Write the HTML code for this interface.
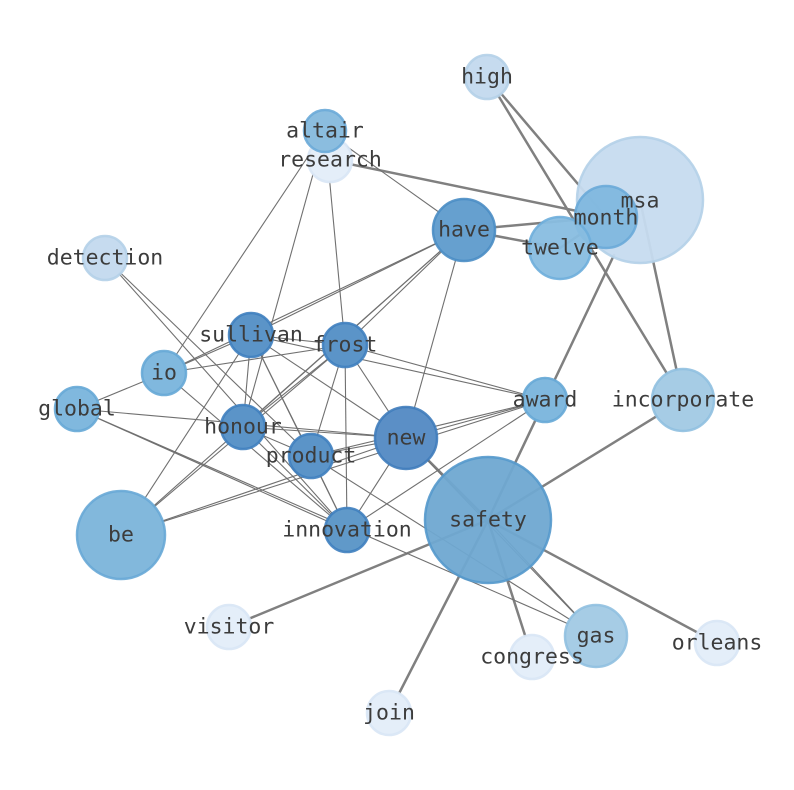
<!DOCTYPE html>
<html><head><style>body{margin:0;background:#fff}svg{display:block}</style></head><body>
<svg width="794" height="790" xmlns="http://www.w3.org/2000/svg">
<g stroke="#808080" stroke-width="2.5" stroke-linecap="round" fill="none">
<line x1="487" y1="77" x2="606" y2="217"/>
<line x1="487" y1="77" x2="683" y2="400"/>
<line x1="330" y1="160" x2="606" y2="217"/>
<line x1="464" y1="230" x2="606" y2="217"/>
<line x1="464" y1="230" x2="560" y2="248"/>
<line x1="560" y1="248" x2="606" y2="217"/>
<line x1="640" y1="200" x2="683" y2="400"/>
<line x1="488" y1="520" x2="614" y2="255"/>
<line x1="488" y1="520" x2="683" y2="400"/>
<line x1="488" y1="520" x2="229" y2="627"/>
<line x1="488" y1="520" x2="389" y2="713"/>
<line x1="488" y1="520" x2="532" y2="657"/>
<line x1="488" y1="520" x2="717" y2="643"/>
<line x1="488" y1="520" x2="406" y2="438"/>
</g>
<g stroke="#707070" stroke-width="1.1" fill="none">
<line x1="325" y1="131" x2="464" y2="230"/>
<line x1="325" y1="131" x2="164" y2="373"/>
<line x1="325" y1="131" x2="243" y2="427"/>
<line x1="325" y1="131" x2="345" y2="345"/>
<line x1="105" y1="258" x2="347" y2="530"/>
<line x1="105" y1="258" x2="311" y2="456"/>
<line x1="464" y1="230" x2="251" y2="335"/>
<line x1="464" y1="230" x2="164" y2="373"/>
<line x1="464" y1="230" x2="243" y2="427"/>
<line x1="464" y1="230" x2="121" y2="535"/>
<line x1="464" y1="230" x2="406" y2="438"/>
<line x1="464" y1="230" x2="345" y2="345"/>
<line x1="251" y1="335" x2="164" y2="373"/>
<line x1="251" y1="335" x2="345" y2="345"/>
<line x1="251" y1="335" x2="243" y2="427"/>
<line x1="251" y1="335" x2="311" y2="456"/>
<line x1="251" y1="335" x2="347" y2="530"/>
<line x1="251" y1="335" x2="121" y2="535"/>
<line x1="251" y1="335" x2="406" y2="438"/>
<line x1="251" y1="335" x2="545" y2="400"/>
<line x1="345" y1="345" x2="164" y2="373"/>
<line x1="345" y1="345" x2="243" y2="427"/>
<line x1="345" y1="345" x2="311" y2="456"/>
<line x1="345" y1="345" x2="347" y2="530"/>
<line x1="345" y1="345" x2="406" y2="438"/>
<line x1="345" y1="345" x2="545" y2="400"/>
<line x1="345" y1="345" x2="121" y2="535"/>
<line x1="77" y1="409" x2="164" y2="373"/>
<line x1="77" y1="409" x2="406" y2="438"/>
<line x1="77" y1="409" x2="347" y2="530"/>
<line x1="77" y1="409" x2="596" y2="636"/>
<line x1="164" y1="373" x2="347" y2="530"/>
<line x1="243" y1="427" x2="406" y2="438"/>
<line x1="243" y1="427" x2="311" y2="456"/>
<line x1="243" y1="427" x2="347" y2="530"/>
<line x1="406" y1="438" x2="311" y2="456"/>
<line x1="406" y1="438" x2="121" y2="535"/>
<line x1="406" y1="438" x2="545" y2="400"/>
<line x1="406" y1="438" x2="347" y2="530"/>
<line x1="545" y1="400" x2="121" y2="535"/>
<line x1="545" y1="400" x2="347" y2="530"/>
<line x1="545" y1="400" x2="311" y2="456"/>
<line x1="311" y1="456" x2="596" y2="636"/>
<line x1="311" y1="456" x2="347" y2="530"/>
<line x1="488" y1="520" x2="596" y2="636"/>
<line x1="406" y1="438" x2="596" y2="636"/>
</g>
<g stroke-width="2.5" stroke-opacity="0.9">
<circle cx="640" cy="200" r="63" fill="#c6dbef" stroke="#b4d0e8" fill-opacity="0.95"/>
<circle cx="487" cy="77" r="22" fill="#c6dbef" stroke="#b4d0e8"/>
<circle cx="330" cy="160" r="22" fill="#e4eef9" stroke="#d8e6f5"/>
<circle cx="325" cy="131" r="21" fill="#8bbddf" stroke="#6aaad8"/>
<circle cx="606" cy="217" r="31" fill="#7cb6de" fill-opacity="0.9" stroke="#6aaad8"/>
<circle cx="560" cy="248" r="31" fill="#88bde0" fill-opacity="0.95" stroke="#6eaedb"/>
<circle cx="464" cy="230" r="31" fill="#66a0cf" stroke="#4a8dc4"/>
<circle cx="105" cy="258" r="22" fill="#c6dbef" stroke="#b4d0e8"/>
<circle cx="251" cy="335" r="22" fill="#5b94c8" stroke="#3f80bf"/>
<circle cx="345" cy="345" r="22" fill="#5b94c8" stroke="#3f80bf"/>
<circle cx="164" cy="373" r="22" fill="#80b8de" stroke="#66a8d6"/>
<circle cx="77" cy="409" r="22" fill="#80b8de" stroke="#66a8d6"/>
<circle cx="545" cy="400" r="22" fill="#80b8de" stroke="#66a8d6"/>
<circle cx="683" cy="400" r="31" fill="#a6cce5" stroke="#90c0e0"/>
<circle cx="243" cy="427" r="22" fill="#5b94c8" stroke="#3f80bf"/>
<circle cx="406" cy="438" r="31" fill="#5b8fc6" stroke="#3f7cbb"/>
<circle cx="311" cy="456" r="22" fill="#5b94c8" stroke="#3f80bf"/>
<circle cx="488" cy="520" r="63" fill="#6fa8d1" fill-opacity="0.95" stroke="#5599cc"/>
<circle cx="121" cy="535" r="44" fill="#82b8dc" stroke="#68a9d6"/>
<circle cx="347" cy="530" r="22" fill="#6099c9" stroke="#3f80bf"/>
<circle cx="229" cy="627" r="22" fill="#e4eef9" stroke="#d8e6f5"/>
<circle cx="532" cy="657" r="22" fill="#e4eef9" stroke="#d8e6f5"/>
<circle cx="596" cy="636" r="31" fill="#a6cce5" stroke="#90c0e0"/>
<circle cx="717" cy="643" r="22" fill="#e4eef9" stroke="#d8e6f5"/>
<circle cx="389" cy="713" r="22" fill="#e4eef9" stroke="#d8e6f5"/>
</g>
<g font-family="'DejaVu Sans Mono','Liberation Mono',monospace" font-size="21.5" fill="#3c3c3c" text-anchor="middle" dominant-baseline="central">
<text x="487" y="77">high</text>
<text x="325" y="131">altair</text>
<text x="330" y="160">research</text>
<text x="640" y="201">msa</text>
<text x="606" y="218">month</text>
<text x="464" y="230">have</text>
<text x="560" y="248">twelve</text>
<text x="105" y="258">detection</text>
<text x="251" y="335">sullivan</text>
<text x="345" y="345">frost</text>
<text x="164" y="373">io</text>
<text x="77" y="409">global</text>
<text x="545" y="400">award</text>
<text x="683" y="400">incorporate</text>
<text x="243" y="427">honour</text>
<text x="406" y="438">new</text>
<text x="311" y="456">product</text>
<text x="488" y="520">safety</text>
<text x="121" y="535">be</text>
<text x="347" y="530">innovation</text>
<text x="229" y="627">visitor</text>
<text x="532" y="657">congress</text>
<text x="596" y="636">gas</text>
<text x="717" y="643">orleans</text>
<text x="389" y="713">join</text>
</g>
</svg>
</body></html>
